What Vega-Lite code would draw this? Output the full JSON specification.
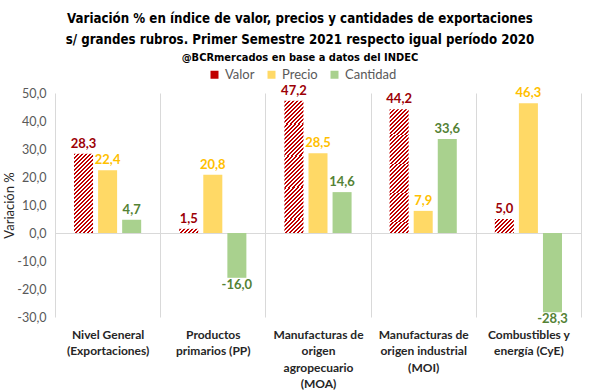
{
  "$schema": "https://vega.github.io/schema/vega-lite/v6.json",
  "width": 526,
  "height": 224,
  "autosize": "none",
  "padding": {"left": 55, "top": 93, "right": 19, "bottom": 75},
  "background": "#ffffff",
  "title": {
    "text": ["Variación % en índice de valor, precios y cantidades de exportaciones", "s/ grandes rubros. Primer Semestre 2021 respecto igual período 2020"],
    "subtitle": "@BCRmercados  en base a datos del INDEC",
    "font": "DejaVu Sans Condensed, sans-serif",
    "fontSize": 13.2,
    "fontWeight": "bold",
    "color": "#000000",
    "lineHeight": 21,
    "subtitleFont": "DejaVu Sans Condensed, sans-serif",
    "subtitleFontSize": 11,
    "subtitleFontWeight": "bold",
    "subtitleColor": "#000000",
    "subtitlePadding": 5,
    "anchor": "middle",
    "frame": "group",
    "dx": -18,
    "offset": 4
  },
  "data": {
    "values": [
      {"cat": "Nivel General|(Exportaciones)", "serie": "Valor", "valor": 28.3},
      {"cat": "Nivel General|(Exportaciones)", "serie": "Precio", "valor": 22.4},
      {"cat": "Nivel General|(Exportaciones)", "serie": "Cantidad", "valor": 4.7},
      {"cat": "Productos|primarios (PP)", "serie": "Valor", "valor": 1.5},
      {"cat": "Productos|primarios (PP)", "serie": "Precio", "valor": 20.8},
      {"cat": "Productos|primarios (PP)", "serie": "Cantidad", "valor": -16.0},
      {"cat": "Manufacturas de|origen|agropecuario|(MOA)", "serie": "Valor", "valor": 47.2},
      {"cat": "Manufacturas de|origen|agropecuario|(MOA)", "serie": "Precio", "valor": 28.5},
      {"cat": "Manufacturas de|origen|agropecuario|(MOA)", "serie": "Cantidad", "valor": 14.6},
      {"cat": "Manufacturas de|origen industrial|(MOI)", "serie": "Valor", "valor": 44.2},
      {"cat": "Manufacturas de|origen industrial|(MOI)", "serie": "Precio", "valor": 7.9},
      {"cat": "Manufacturas de|origen industrial|(MOI)", "serie": "Cantidad", "valor": 33.6},
      {"cat": "Combustibles y|energía (CyE)", "serie": "Valor", "valor": 5.0},
      {"cat": "Combustibles y|energía (CyE)", "serie": "Precio", "valor": 46.3},
      {"cat": "Combustibles y|energía (CyE)", "serie": "Cantidad", "valor": -28.3}
    ]
  },
  "encoding": {
    "x": {
      "field": "cat", "type": "nominal",
      "scale": {"domain": ["Nivel General|(Exportaciones)", "Productos|primarios (PP)", "Manufacturas de|origen|agropecuario|(MOA)", "Manufacturas de|origen industrial|(MOI)", "Combustibles y|energía (CyE)"], "paddingInner": 0, "paddingOuter": 0},
      "axis": {
        "title": null, "labelAngle": 0, "domain": false, "ticks": false,
        "grid": true, "gridColor": "#d9d9d9", "gridWidth": 1, "tickBand": "extent",
        "labelExpr": "split(datum.label, '|')",
        "labelFont": "Lato", "labelFontSize": 12, "labelFontWeight": "bold", "labelColor": "#262626",
        "labelPadding": 12, "labelLineHeight": 16.5, "labelBaseline": "top", "labelLimit": 0
      }
    },
    "xOffset": {
      "field": "serie", "type": "nominal",
      "scale": {"domain": ["Valor", "Precio", "Cantidad"], "paddingInner": 0.21, "paddingOuter": 0.79}
    },
    "y": {
      "field": "valor", "type": "quantitative",
      "scale": {"domain": [-30, 50], "nice": false, "zero": false},
      "axis": {
        "title": "Variación %", "titleFont": "Lato", "titleFontSize": 13, "titleFontWeight": "normal", "titleColor": "#262626", "titlePadding": 0,
        "values": [-30, -20, -10, 0, 10, 20, 30, 40, 50], "format": ".1f",
        "domain": false, "ticks": false, "labelPadding": 9,
        "labelFont": "Lato", "labelFontSize": 12.5, "labelColor": "#595959",
        "grid": true,
        "gridColor": {"condition": {"test": "datum.value === 0", "value": "#d9d9d9"}, "value": "transparent"}
      }
    }
  },
  "layer": [
    {
      "transform": [{"filter": "datum.serie !== 'Valor'"}],
      "mark": {"type": "bar"},
      "encoding": {
        "color": {
          "field": "serie", "type": "nominal",
          "scale": {"domain": ["Valor", "Precio", "Cantidad"], "range": ["#c00000", "#ffd966", "#a9d18e"]},
          "legend": {
            "title": null, "orient": "none", "legendX": 153, "legendY": -25, "direction": "horizontal",
            "symbolType": "square", "symbolSize": 64, "symbolStrokeWidth": 0,
            "labelFont": "Lato", "labelFontSize": 13, "labelColor": "#595959", "labelOffset": 4, "columnPadding": 10
          }
        }
      }
    },
    {
      "transform": [{"filter": "datum.serie === 'Valor' && datum.valor > 40"}],
      "mark": {"type": "bar", "fill": {"gradient": "linear", "x1": 0, "y1": 0, "x2": 0.1815, "y2": 1.2231, "stops": [
        {"offset": 0, "color": "#c00000"}, {"offset": 0.0125, "color": "#c00000"}, {"offset": 0.0125, "color": "#ffffff"}, {"offset": 0.025, "color": "#ffffff"},
        {"offset": 0.025, "color": "#c00000"}, {"offset": 0.0375, "color": "#c00000"}, {"offset": 0.0375, "color": "#ffffff"}, {"offset": 0.05, "color": "#ffffff"},
        {"offset": 0.05, "color": "#c00000"}, {"offset": 0.0625, "color": "#c00000"}, {"offset": 0.0625, "color": "#ffffff"}, {"offset": 0.075, "color": "#ffffff"},
        {"offset": 0.075, "color": "#c00000"}, {"offset": 0.0875, "color": "#c00000"}, {"offset": 0.0875, "color": "#ffffff"}, {"offset": 0.1, "color": "#ffffff"},
        {"offset": 0.1, "color": "#c00000"}, {"offset": 0.1125, "color": "#c00000"}, {"offset": 0.1125, "color": "#ffffff"}, {"offset": 0.125, "color": "#ffffff"},
        {"offset": 0.125, "color": "#c00000"}, {"offset": 0.1375, "color": "#c00000"}, {"offset": 0.1375, "color": "#ffffff"}, {"offset": 0.15, "color": "#ffffff"},
        {"offset": 0.15, "color": "#c00000"}, {"offset": 0.1625, "color": "#c00000"}, {"offset": 0.1625, "color": "#ffffff"}, {"offset": 0.175, "color": "#ffffff"},
        {"offset": 0.175, "color": "#c00000"}, {"offset": 0.1875, "color": "#c00000"}, {"offset": 0.1875, "color": "#ffffff"}, {"offset": 0.2, "color": "#ffffff"},
        {"offset": 0.2, "color": "#c00000"}, {"offset": 0.2125, "color": "#c00000"}, {"offset": 0.2125, "color": "#ffffff"}, {"offset": 0.225, "color": "#ffffff"},
        {"offset": 0.225, "color": "#c00000"}, {"offset": 0.2375, "color": "#c00000"}, {"offset": 0.2375, "color": "#ffffff"}, {"offset": 0.25, "color": "#ffffff"},
        {"offset": 0.25, "color": "#c00000"}, {"offset": 0.2625, "color": "#c00000"}, {"offset": 0.2625, "color": "#ffffff"}, {"offset": 0.275, "color": "#ffffff"},
        {"offset": 0.275, "color": "#c00000"}, {"offset": 0.2875, "color": "#c00000"}, {"offset": 0.2875, "color": "#ffffff"}, {"offset": 0.3, "color": "#ffffff"},
        {"offset": 0.3, "color": "#c00000"}, {"offset": 0.3125, "color": "#c00000"}, {"offset": 0.3125, "color": "#ffffff"}, {"offset": 0.325, "color": "#ffffff"},
        {"offset": 0.325, "color": "#c00000"}, {"offset": 0.3375, "color": "#c00000"}, {"offset": 0.3375, "color": "#ffffff"}, {"offset": 0.35, "color": "#ffffff"},
        {"offset": 0.35, "color": "#c00000"}, {"offset": 0.3625, "color": "#c00000"}, {"offset": 0.3625, "color": "#ffffff"}, {"offset": 0.375, "color": "#ffffff"},
        {"offset": 0.375, "color": "#c00000"}, {"offset": 0.3875, "color": "#c00000"}, {"offset": 0.3875, "color": "#ffffff"}, {"offset": 0.4, "color": "#ffffff"},
        {"offset": 0.4, "color": "#c00000"}, {"offset": 0.4125, "color": "#c00000"}, {"offset": 0.4125, "color": "#ffffff"}, {"offset": 0.425, "color": "#ffffff"},
        {"offset": 0.425, "color": "#c00000"}, {"offset": 0.4375, "color": "#c00000"}, {"offset": 0.4375, "color": "#ffffff"}, {"offset": 0.45, "color": "#ffffff"},
        {"offset": 0.45, "color": "#c00000"}, {"offset": 0.4625, "color": "#c00000"}, {"offset": 0.4625, "color": "#ffffff"}, {"offset": 0.475, "color": "#ffffff"},
        {"offset": 0.475, "color": "#c00000"}, {"offset": 0.4875, "color": "#c00000"}, {"offset": 0.4875, "color": "#ffffff"}, {"offset": 0.5, "color": "#ffffff"},
        {"offset": 0.5, "color": "#c00000"}, {"offset": 0.5125, "color": "#c00000"}, {"offset": 0.5125, "color": "#ffffff"}, {"offset": 0.525, "color": "#ffffff"},
        {"offset": 0.525, "color": "#c00000"}, {"offset": 0.5375, "color": "#c00000"}, {"offset": 0.5375, "color": "#ffffff"}, {"offset": 0.55, "color": "#ffffff"},
        {"offset": 0.55, "color": "#c00000"}, {"offset": 0.5625, "color": "#c00000"}, {"offset": 0.5625, "color": "#ffffff"}, {"offset": 0.575, "color": "#ffffff"},
        {"offset": 0.575, "color": "#c00000"}, {"offset": 0.5875, "color": "#c00000"}, {"offset": 0.5875, "color": "#ffffff"}, {"offset": 0.6, "color": "#ffffff"},
        {"offset": 0.6, "color": "#c00000"}, {"offset": 0.6125, "color": "#c00000"}, {"offset": 0.6125, "color": "#ffffff"}, {"offset": 0.625, "color": "#ffffff"},
        {"offset": 0.625, "color": "#c00000"}, {"offset": 0.6375, "color": "#c00000"}, {"offset": 0.6375, "color": "#ffffff"}, {"offset": 0.65, "color": "#ffffff"},
        {"offset": 0.65, "color": "#c00000"}, {"offset": 0.6625, "color": "#c00000"}, {"offset": 0.6625, "color": "#ffffff"}, {"offset": 0.675, "color": "#ffffff"},
        {"offset": 0.675, "color": "#c00000"}, {"offset": 0.6875, "color": "#c00000"}, {"offset": 0.6875, "color": "#ffffff"}, {"offset": 0.7, "color": "#ffffff"},
        {"offset": 0.7, "color": "#c00000"}, {"offset": 0.7125, "color": "#c00000"}, {"offset": 0.7125, "color": "#ffffff"}, {"offset": 0.725, "color": "#ffffff"},
        {"offset": 0.725, "color": "#c00000"}, {"offset": 0.7375, "color": "#c00000"}, {"offset": 0.7375, "color": "#ffffff"}, {"offset": 0.75, "color": "#ffffff"},
        {"offset": 0.75, "color": "#c00000"}, {"offset": 0.7625, "color": "#c00000"}, {"offset": 0.7625, "color": "#ffffff"}, {"offset": 0.775, "color": "#ffffff"},
        {"offset": 0.775, "color": "#c00000"}, {"offset": 0.7875, "color": "#c00000"}, {"offset": 0.7875, "color": "#ffffff"}, {"offset": 0.8, "color": "#ffffff"},
        {"offset": 0.8, "color": "#c00000"}, {"offset": 0.8125, "color": "#c00000"}, {"offset": 0.8125, "color": "#ffffff"}, {"offset": 0.825, "color": "#ffffff"},
        {"offset": 0.825, "color": "#c00000"}, {"offset": 0.8375, "color": "#c00000"}, {"offset": 0.8375, "color": "#ffffff"}, {"offset": 0.85, "color": "#ffffff"},
        {"offset": 0.85, "color": "#c00000"}, {"offset": 0.8625, "color": "#c00000"}, {"offset": 0.8625, "color": "#ffffff"}, {"offset": 0.875, "color": "#ffffff"},
        {"offset": 0.875, "color": "#c00000"}, {"offset": 0.8875, "color": "#c00000"}, {"offset": 0.8875, "color": "#ffffff"}, {"offset": 0.9, "color": "#ffffff"},
        {"offset": 0.9, "color": "#c00000"}, {"offset": 0.9125, "color": "#c00000"}, {"offset": 0.9125, "color": "#ffffff"}, {"offset": 0.925, "color": "#ffffff"},
        {"offset": 0.925, "color": "#c00000"}, {"offset": 0.9375, "color": "#c00000"}, {"offset": 0.9375, "color": "#ffffff"}, {"offset": 0.95, "color": "#ffffff"}
      ]}}
    },
    {
      "transform": [{"filter": "datum.serie === 'Valor' && datum.valor > 20 && datum.valor < 40"}],
      "mark": {"type": "bar", "fill": {"gradient": "linear", "x1": 0, "y1": 0, "x2": 0.2861, "y2": 1.1928, "stops": [
        {"offset": 0, "color": "#c00000"}, {"offset": 0.02, "color": "#c00000"}, {"offset": 0.02, "color": "#ffffff"}, {"offset": 0.04, "color": "#ffffff"},
        {"offset": 0.04, "color": "#c00000"}, {"offset": 0.06, "color": "#c00000"}, {"offset": 0.06, "color": "#ffffff"}, {"offset": 0.08, "color": "#ffffff"},
        {"offset": 0.08, "color": "#c00000"}, {"offset": 0.1, "color": "#c00000"}, {"offset": 0.1, "color": "#ffffff"}, {"offset": 0.12, "color": "#ffffff"},
        {"offset": 0.12, "color": "#c00000"}, {"offset": 0.14, "color": "#c00000"}, {"offset": 0.14, "color": "#ffffff"}, {"offset": 0.16, "color": "#ffffff"},
        {"offset": 0.16, "color": "#c00000"}, {"offset": 0.18, "color": "#c00000"}, {"offset": 0.18, "color": "#ffffff"}, {"offset": 0.2, "color": "#ffffff"},
        {"offset": 0.2, "color": "#c00000"}, {"offset": 0.22, "color": "#c00000"}, {"offset": 0.22, "color": "#ffffff"}, {"offset": 0.24, "color": "#ffffff"},
        {"offset": 0.24, "color": "#c00000"}, {"offset": 0.26, "color": "#c00000"}, {"offset": 0.26, "color": "#ffffff"}, {"offset": 0.28, "color": "#ffffff"},
        {"offset": 0.28, "color": "#c00000"}, {"offset": 0.3, "color": "#c00000"}, {"offset": 0.3, "color": "#ffffff"}, {"offset": 0.32, "color": "#ffffff"},
        {"offset": 0.32, "color": "#c00000"}, {"offset": 0.34, "color": "#c00000"}, {"offset": 0.34, "color": "#ffffff"}, {"offset": 0.36, "color": "#ffffff"},
        {"offset": 0.36, "color": "#c00000"}, {"offset": 0.38, "color": "#c00000"}, {"offset": 0.38, "color": "#ffffff"}, {"offset": 0.4, "color": "#ffffff"},
        {"offset": 0.4, "color": "#c00000"}, {"offset": 0.42, "color": "#c00000"}, {"offset": 0.42, "color": "#ffffff"}, {"offset": 0.44, "color": "#ffffff"},
        {"offset": 0.44, "color": "#c00000"}, {"offset": 0.46, "color": "#c00000"}, {"offset": 0.46, "color": "#ffffff"}, {"offset": 0.48, "color": "#ffffff"},
        {"offset": 0.48, "color": "#c00000"}, {"offset": 0.5, "color": "#c00000"}, {"offset": 0.5, "color": "#ffffff"}, {"offset": 0.52, "color": "#ffffff"},
        {"offset": 0.52, "color": "#c00000"}, {"offset": 0.54, "color": "#c00000"}, {"offset": 0.54, "color": "#ffffff"}, {"offset": 0.56, "color": "#ffffff"},
        {"offset": 0.56, "color": "#c00000"}, {"offset": 0.58, "color": "#c00000"}, {"offset": 0.58, "color": "#ffffff"}, {"offset": 0.6, "color": "#ffffff"},
        {"offset": 0.6, "color": "#c00000"}, {"offset": 0.62, "color": "#c00000"}, {"offset": 0.62, "color": "#ffffff"}, {"offset": 0.64, "color": "#ffffff"},
        {"offset": 0.64, "color": "#c00000"}, {"offset": 0.66, "color": "#c00000"}, {"offset": 0.66, "color": "#ffffff"}, {"offset": 0.68, "color": "#ffffff"},
        {"offset": 0.68, "color": "#c00000"}, {"offset": 0.7, "color": "#c00000"}, {"offset": 0.7, "color": "#ffffff"}, {"offset": 0.72, "color": "#ffffff"},
        {"offset": 0.72, "color": "#c00000"}, {"offset": 0.74, "color": "#c00000"}, {"offset": 0.74, "color": "#ffffff"}, {"offset": 0.76, "color": "#ffffff"},
        {"offset": 0.76, "color": "#c00000"}, {"offset": 0.78, "color": "#c00000"}, {"offset": 0.78, "color": "#ffffff"}, {"offset": 0.8, "color": "#ffffff"},
        {"offset": 0.8, "color": "#c00000"}, {"offset": 0.82, "color": "#c00000"}, {"offset": 0.82, "color": "#ffffff"}, {"offset": 0.84, "color": "#ffffff"},
        {"offset": 0.84, "color": "#c00000"}, {"offset": 0.86, "color": "#c00000"}, {"offset": 0.86, "color": "#ffffff"}, {"offset": 0.88, "color": "#ffffff"},
        {"offset": 0.88, "color": "#c00000"}, {"offset": 0.9, "color": "#c00000"}, {"offset": 0.9, "color": "#ffffff"}, {"offset": 0.92, "color": "#ffffff"},
        {"offset": 0.92, "color": "#c00000"}, {"offset": 0.94, "color": "#c00000"}, {"offset": 0.94, "color": "#ffffff"}, {"offset": 0.96, "color": "#ffffff"},
        {"offset": 0.96, "color": "#c00000"}, {"offset": 0.98, "color": "#c00000"}, {"offset": 0.98, "color": "#ffffff"}, {"offset": 1, "color": "#ffffff"}
      ]}}
    },
    {
      "transform": [{"filter": "datum.serie === 'Valor' && datum.valor > 3 && datum.valor < 10"}],
      "mark": {"type": "bar", "fill": {"gradient": "linear", "x1": 0, "y1": 0, "x2": 1.364, "y2": 1.005, "stops": [
        {"offset": 0, "color": "#c00000"}, {"offset": 0.05, "color": "#c00000"}, {"offset": 0.05, "color": "#ffffff"}, {"offset": 0.1, "color": "#ffffff"},
        {"offset": 0.1, "color": "#c00000"}, {"offset": 0.15, "color": "#c00000"}, {"offset": 0.15, "color": "#ffffff"}, {"offset": 0.2, "color": "#ffffff"},
        {"offset": 0.2, "color": "#c00000"}, {"offset": 0.25, "color": "#c00000"}, {"offset": 0.25, "color": "#ffffff"}, {"offset": 0.3, "color": "#ffffff"},
        {"offset": 0.3, "color": "#c00000"}, {"offset": 0.35, "color": "#c00000"}, {"offset": 0.35, "color": "#ffffff"}, {"offset": 0.4, "color": "#ffffff"},
        {"offset": 0.4, "color": "#c00000"}, {"offset": 0.45, "color": "#c00000"}, {"offset": 0.45, "color": "#ffffff"}, {"offset": 0.5, "color": "#ffffff"},
        {"offset": 0.5, "color": "#c00000"}, {"offset": 0.55, "color": "#c00000"}, {"offset": 0.55, "color": "#ffffff"}, {"offset": 0.6, "color": "#ffffff"},
        {"offset": 0.6, "color": "#c00000"}, {"offset": 0.65, "color": "#c00000"}, {"offset": 0.65, "color": "#ffffff"}, {"offset": 0.7, "color": "#ffffff"},
        {"offset": 0.7, "color": "#c00000"}, {"offset": 0.75, "color": "#c00000"}, {"offset": 0.75, "color": "#ffffff"}, {"offset": 0.8, "color": "#ffffff"},
        {"offset": 0.8, "color": "#c00000"}, {"offset": 0.85, "color": "#c00000"}, {"offset": 0.85, "color": "#ffffff"}, {"offset": 0.9, "color": "#ffffff"}
      ]}}
    },
    {
      "transform": [{"filter": "datum.serie === 'Valor' && datum.valor < 3"}],
      "mark": {"type": "bar", "fill": {"gradient": "linear", "x1": 0, "y1": 0, "x2": 2.007, "y2": 0.4437, "stops": [
        {"offset": 0, "color": "#c00000"}, {"offset": 0.05, "color": "#c00000"}, {"offset": 0.05, "color": "#ffffff"}, {"offset": 0.1, "color": "#ffffff"},
        {"offset": 0.1, "color": "#c00000"}, {"offset": 0.15, "color": "#c00000"}, {"offset": 0.15, "color": "#ffffff"}, {"offset": 0.2, "color": "#ffffff"},
        {"offset": 0.2, "color": "#c00000"}, {"offset": 0.25, "color": "#c00000"}, {"offset": 0.25, "color": "#ffffff"}, {"offset": 0.3, "color": "#ffffff"},
        {"offset": 0.3, "color": "#c00000"}, {"offset": 0.35, "color": "#c00000"}, {"offset": 0.35, "color": "#ffffff"}, {"offset": 0.4, "color": "#ffffff"},
        {"offset": 0.4, "color": "#c00000"}, {"offset": 0.45, "color": "#c00000"}, {"offset": 0.45, "color": "#ffffff"}, {"offset": 0.5, "color": "#ffffff"},
        {"offset": 0.5, "color": "#c00000"}, {"offset": 0.55, "color": "#c00000"}, {"offset": 0.55, "color": "#ffffff"}, {"offset": 0.6, "color": "#ffffff"}
      ]}}
    },
    {
      "transform": [{"filter": "datum.valor >= 0"}],
      "mark": {"type": "text", "baseline": "bottom", "dy": -3, "font": "Lato", "fontSize": 13, "fontWeight": "bold"},
      "encoding": {
        "text": {"field": "valor", "type": "quantitative", "format": ".1f"},
        "color": {"condition": [{"test": "datum.serie === 'Valor'", "value": "#9c0006"}, {"test": "datum.serie === 'Precio'", "value": "#ffc000"}], "value": "#548235"}
      }
    },
    {
      "transform": [{"filter": "datum.valor < 0"}],
      "mark": {"type": "text", "baseline": "top", "dy": 1, "font": "Lato", "fontSize": 13, "fontWeight": "bold"},
      "encoding": {
        "text": {"field": "valor", "type": "quantitative", "format": ".1f"},
        "color": {"condition": [{"test": "datum.serie === 'Valor'", "value": "#9c0006"}, {"test": "datum.serie === 'Precio'", "value": "#ffc000"}], "value": "#548235"}
      }
    }
  ],
  "config": {
    "locale": {"number": {"decimal": ",", "thousands": ".", "grouping": [3], "currency": ["$", ""], "minus": "-"}},
    "view": {"stroke": null},
    "font": "Lato"
  }
}
